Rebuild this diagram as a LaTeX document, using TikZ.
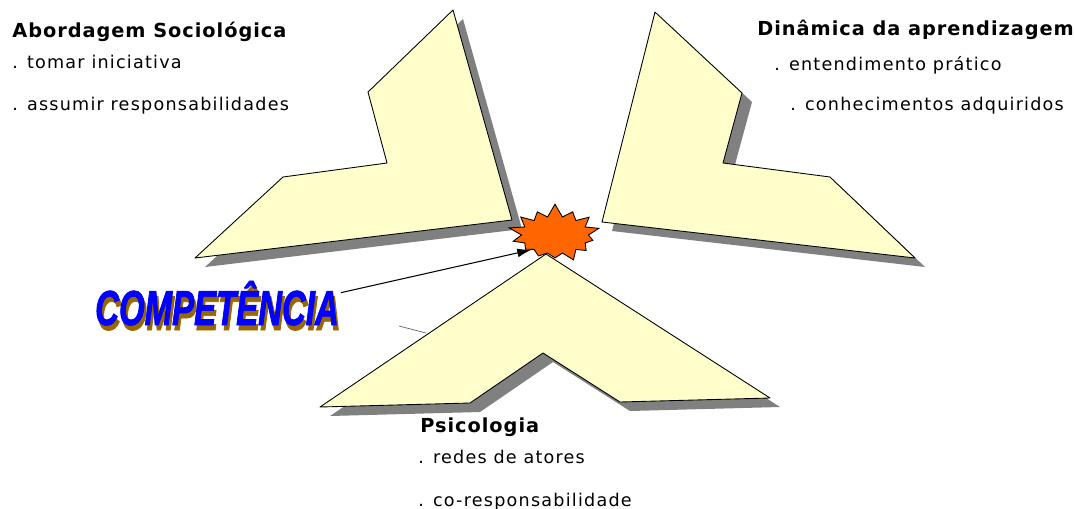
\documentclass[tikz,border=0pt]{standalone}
\usepackage{fontspec}
\usetikzlibrary{shapes.symbols,arrows.meta}
\newfontfamily\headfont[LetterSpace=5]{DejaVu Sans}
\newfontfamily\itemfont[LetterSpace=7]{DejaVu Sans}
\newfontfamily\wordfont[FakeStretch=0.67,FakeBold=1.5]{Liberation Sans}
\definecolor{armfill}{HTML}{FFFFCC}
\definecolor{burstfill}{HTML}{FF6600}
\definecolor{wordblue}{HTML}{0000FF}
\definecolor{wordbrown}{HTML}{996600}
\begin{document}
\begin{tikzpicture}[x=0.02cm,y=-0.02cm,
  arm/.style={draw=black,fill=armfill,line width=0.5pt,line join=round},
  armshadow/.style={fill=black!50,shift={(10,9)}},
  head/.style={anchor=base west,inner sep=0pt,font=\headfont\bfseries\fontsize{11}{13}\selectfont},
  item/.style={anchor=base west,inner sep=0pt,font=\itemfont\fontsize{10}{12}\selectfont},
  word/.style={anchor=base,inner sep=1pt,font=\wordfont\bfseries\itshape\fontsize{28}{30}\selectfont},
  burst/.style={starburst,starburst points=14,starburst point height=0.28cm,random starburst=17,
    draw=black,fill=burstfill,line width=0.5pt,minimum width=1.9cm,minimum height=1.3cm,inner sep=0pt}]
\useasboundingbox (0,0) rectangle (1075,508);
% left arm
\fill[armshadow] (453,10) -- (512,220) -- (195,258) -- (283,177) -- (387,163) -- (368,92) -- cycle;
\draw[arm] (453,10) -- (512,220) -- (195,258) -- (283,177) -- (387,163) -- (368,92) -- cycle;
% right arm
\fill[armshadow] (655,12) -- (742,93) -- (723,163) -- (830,177) -- (915,258) -- (602,222) -- cycle;
\draw[arm] (655,12) -- (742,93) -- (723,163) -- (830,177) -- (915,258) -- (602,222) -- cycle;
% bottom arm
\fill[armshadow] (546,254) -- (770,398) -- (620,402) -- (543,353) -- (470,403) -- (320,407) -- cycle;
\draw[arm] (546,254) -- (770,398) -- (620,402) -- (543,353) -- (470,403) -- (320,407) -- cycle;
\node[burst] (burst) at (555,235) {};
% word art
\node[word,text=wordbrown] (compshadow) at (219,330) {COMPETÊNCIA};
\node[word,text=wordblue] (comp) at (217,325) {COMPETÊNCIA};
\draw[-{Latex[length=8pt,width=5pt]},line width=0.6pt] ([yshift=6pt]comp.east) -- (burst.212);
\coordinate (stubA) at (399,326);
\coordinate (stubB) at (426,333);
\draw[black!60,line width=0.4pt] (stubA) -- (stubB);
% labels
\node[head] (socio) at (12,37) {Abordagem Sociológica};
\node[item] (socio1) at (12,68) {. tomar iniciativa};
\node[item] (socio2) at (12,110) {. assumir responsabilidades};
\node[head] (dinam) at (757,35) {Dinâmica da aprendizagem};
\node[item] (dinam1) at (774,70) {. entendimento prático};
\node[item] (dinam2) at (790,110) {. conhecimentos adquiridos};
\node[head] (psico) at (420,432) {Psicologia};
\node[item] (psico1) at (418,463) {. redes de atores};
\node[item] (psico2) at (418,506) {. co-responsabilidade};
\end{tikzpicture}
\end{document}
